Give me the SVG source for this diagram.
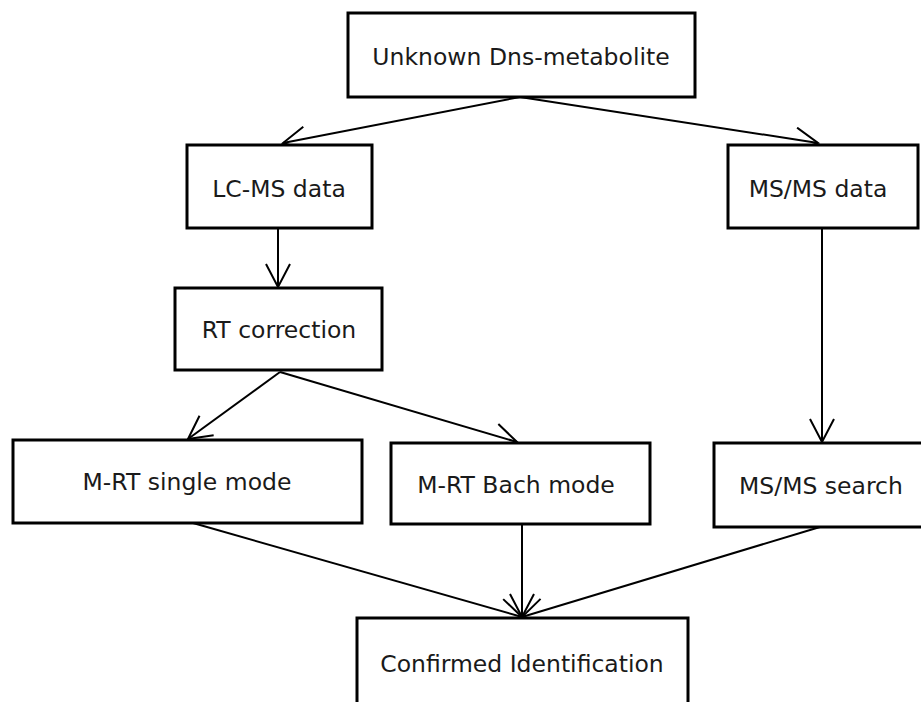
<svg xmlns="http://www.w3.org/2000/svg" width="921" height="702" viewBox="0 0 921 702">
<style>
.box{fill:#fff;stroke:#000;stroke-width:3}
.lbl{font-family:"DejaVu Sans",Verdana,sans-serif;font-size:23.5px;fill:#1a1a1a;text-anchor:middle}
.edge{fill:none;stroke:#000;stroke-width:2;marker-end:url(#arr)}
</style>
<defs>
<marker id="arr" markerUnits="userSpaceOnUse" viewBox="0 0 26 26" refX="24" refY="13" markerWidth="26" markerHeight="26" orient="auto">
<path d="M1,1 L24,13 L1,25" fill="none" stroke="#000" stroke-width="2"/>
</marker>
</defs>
<rect width="921" height="702" fill="#fff"/>
<g id="connectors">
<path class="edge" d="M520,97 L283,143"/>
<path class="edge" d="M520,97 L818,143"/>
<path class="edge" d="M278,228 L278,287"/>
<path class="edge" d="M822,228 L822,442"/>
<path class="edge" d="M280,372 L188,439"/>
<path class="edge" d="M280,372 L517,442"/>
<path class="edge" d="M193,523 L522,617"/>
<path class="edge" d="M522,524 L522,617"/>
<path class="edge" d="M820,527 L522,617"/>
</g>
<g id="n_unknown">
<rect class="box" x="348" y="13" width="347" height="84"/>
<text class="lbl" x="521" y="65">Unknown Dns-metabolite</text>
</g>
<g id="n_lcms">
<rect class="box" x="187" y="145" width="185" height="83"/>
<text class="lbl" x="279" y="197">LC-MS data</text>
</g>
<g id="n_msmsdata">
<rect class="box" x="728" y="145" width="190" height="83"/>
<text class="lbl" x="818" y="197">MS/MS data</text>
</g>
<g id="n_rt">
<rect class="box" x="175" y="288" width="207" height="82"/>
<text class="lbl" x="279" y="338">RT correction</text>
</g>
<g id="n_single">
<rect class="box" x="13" y="440" width="349" height="83"/>
<text class="lbl" x="187" y="490">M-RT single mode</text>
</g>
<g id="n_bach">
<rect class="box" x="391" y="443" width="259" height="81"/>
<text class="lbl" x="516" y="493">M-RT Bach mode</text>
</g>
<g id="n_search">
<rect class="box" x="714" y="443" width="212" height="84"/>
<text class="lbl" x="821" y="494">MS/MS search</text>
</g>
<g id="n_confirmed">
<rect class="box" x="357" y="618" width="331" height="95"/>
<text class="lbl" x="522" y="672">Confirmed Identification</text>
</g>
</svg>
